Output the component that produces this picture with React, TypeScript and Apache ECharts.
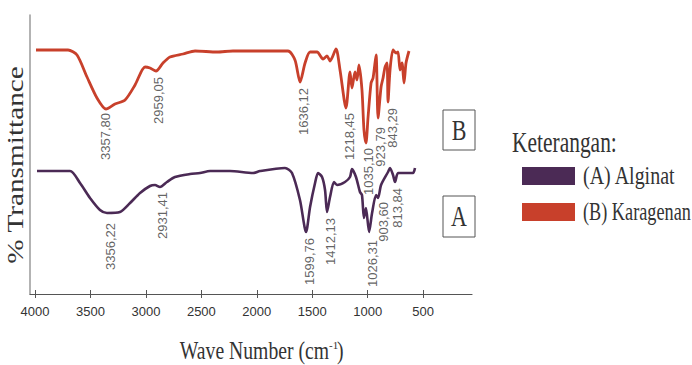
import React, { useEffect, useRef } from "react";
import * as echarts from "echarts";

// wave number ticks (cm-1)
const xTicks = [4000, 3500, 3000, 2500, 2000, 1500, 1000, 500];

// (A) Alginat spectrum: [wave number, transmittance (arb.)]
const alginat: [number, number][] = [
  [3982, 123], [3684, 123], [3594, 111], [3504, 96], [3414, 84], [3351, 81], [3234, 82],
  [3143, 91], [3053, 101], [2963, 108], [2918, 109], [2873, 107], [2810, 112], [2738, 117],
  [2602, 120], [2512, 121], [2422, 123], [2242, 123], [2034, 121], [1971, 123], [1746, 126],
  [1683, 121], [1611, 94], [1556, 62], [1520, 87], [1475, 111], [1448, 121], [1412, 117],
  [1385, 104], [1367, 82], [1340, 97], [1304, 112], [1277, 109], [1205, 112], [1160, 117],
  [1142, 125], [1106, 117], [1070, 102], [1052, 99], [1034, 76], [1016, 86], [988, 62],
  [961, 81], [925, 99], [907, 96], [880, 109], [817, 122], [799, 126], [772, 119],
  [754, 112], [727, 121], [664, 121], [592, 121], [574, 126],
];

// (B) Karagenan spectrum
const karagenan: [number, number][] = [
  [3991, 244], [3702, 244], [3621, 239], [3531, 217], [3441, 196], [3360, 185], [3279, 190],
  [3188, 194], [3098, 209], [3008, 227], [2963, 226], [2909, 223], [2846, 231], [2783, 237],
  [2665, 240], [2557, 243], [2359, 242], [2215, 243], [2106, 243], [1719, 243], [1656, 234],
  [1610, 212], [1565, 231], [1520, 242], [1457, 242], [1403, 235], [1367, 238], [1340, 233],
  [1286, 245], [1250, 224], [1196, 186], [1160, 222], [1142, 206], [1115, 222], [1097, 214],
  [1079, 229], [1052, 204], [1034, 164], [1016, 151], [997, 177], [970, 211], [952, 216],
  [925, 239], [907, 176], [880, 207], [862, 216], [844, 227], [826, 231], [817, 192],
  [799, 224], [772, 244], [745, 241], [727, 242], [709, 224], [691, 231], [673, 211],
  [655, 231], [628, 243],
];

// peak annotations: position of label top end and text
const alginatPeakWn = [3315, 2846, 1529, 1340, 961, 862, 736];
const alginatPeakY = [71, 102, 56, 76, 54, 92, 106];
const alginatPeakText = ["3356,22", "2931,41", "1599,76", "1412,13", "1026,31", "903,60", "813,84"];

const karagenanPeakWn = [3360, 2882, 1583, 1160, 997, 889, 781];
const karagenanPeakY = [181, 217, 206, 181, 146, 167, 186];
const karagenanPeakText = ["3357,80", "2959,05", "1636,12", "1218,45", "1035,10", "923,79", "843,29"];

const colorA = "#4b2a55";
const colorB = "#c8402b";
const serif = "'Liberation Serif', 'Times New Roman', serif";
const sans = "'Liberation Sans', Arial, sans-serif";

function peakSeries(wn: number[], ys: number[], texts: string[]) {
  return {
    type: "scatter",
    symbol: "circle",
    symbolSize: 1,
    itemStyle: { color: "rgba(0,0,0,0)" },
    silent: true,
    data: wn.map((w, i) => ({ name: texts[i], value: [w, ys[i]] })),
    label: {
      show: true,
      formatter: "{b}",
      position: "inside",
      rotate: 90,
      align: "right",
      verticalAlign: "middle",
      fontSize: 13,
      fontFamily: sans,
      color: "#3a3a3a",
    },
    z: 5,
  };
}

export default function App() {
  const ref = useRef<HTMLDivElement>(null);
  useEffect(() => {
    if (!ref.current) return;
    const chart = echarts.init(ref.current, undefined, { renderer: "svg" });
    chart.setOption({
      animation: false,
      backgroundColor: "#ffffff",
      grid: { left: 30, top: 15, width: 442, height: 279 },
      xAxis: [
        {
          type: "value",
          inverse: true,
          min: 60,
          max: 4045,
          splitLine: { show: false },
          axisLine: { show: true, lineStyle: { color: "#555", width: 1.2 } },
          axisTick: { show: true, customValues: xTicks, length: 4, lineStyle: { color: "#555" } },
          axisLabel: {
            show: true,
            customValues: xTicks,
            formatter: (v: number) => String(v),
            fontSize: 13,
            fontFamily: sans,
            color: "#333",
            margin: 11,
          },
        },
        {
          type: "value",
          inverse: true,
          min: 60,
          max: 4045,
          position: "bottom",
          splitLine: { show: false },
          axisLine: { show: false },
          axisTick: { show: true, inside: true, customValues: xTicks, length: 4, lineStyle: { color: "#555" } },
          axisLabel: { show: false },
        },
      ],
      yAxis: {
        type: "value",
        min: 0,
        max: 279,
        splitLine: { show: false },
        axisTick: { show: false },
        axisLabel: { show: false },
        axisLine: { show: true, lineStyle: { color: "#9a9a9a", width: 1.5 } },
      },
      series: [
        {
          name: "(A) Alginat",
          type: "line",
          data: alginat,
          showSymbol: false,
          symbol: "none",
          smooth: 0.25,
          lineStyle: { color: colorA, width: 2.6 },
          z: 3,
        },
        {
          name: "(B) Karagenan",
          type: "line",
          data: karagenan,
          showSymbol: false,
          symbol: "none",
          smooth: 0.25,
          lineStyle: { color: colorB, width: 2.8 },
          z: 3,
        },
        peakSeries(alginatPeakWn, alginatPeakY, alginatPeakText),
        peakSeries(karagenanPeakWn, karagenanPeakY, karagenanPeakText),
      ],
      graphic: [
        // y axis title
        {
          type: "text",
          x: 15,
          y: 165,
          rotation: Math.PI / 2,
          scaleX: 1.22,
          style: {
            text: "% Transmittance",
            font: `24px ${serif}`,
            fill: "#333",
            textAlign: "center",
            textVerticalAlign: "middle",
          },
        },
        // x axis title
        {
          type: "text",
          x: 329,
          y: 351,
          scaleX: 0.82,
          scaleY: 1.05,
          style: {
            text: "Wave Number (cm",
            font: `24px ${serif}`,
            fill: "#333",
            textAlign: "right",
            textVerticalAlign: "middle",
          },
        },
        {
          type: "text",
          x: 329,
          y: 345,
          style: {
            text: "-1",
            font: `11px ${serif}`,
            fill: "#333",
            textAlign: "left",
            textVerticalAlign: "middle",
          },
        },
        {
          type: "text",
          x: 337,
          y: 351,
          scaleX: 0.82,
          scaleY: 1.05,
          style: {
            text: ")",
            font: `24px ${serif}`,
            fill: "#333",
            textAlign: "left",
            textVerticalAlign: "middle",
          },
        },
        // B box
        { type: "rect", shape: { x: 443, y: 110, width: 32, height: 40 }, style: { fill: "#fff", stroke: "#555", lineWidth: 1 } },
        {
          type: "text", x: 459, y: 130, scaleY: 1.3,
          style: { text: "B", font: `22px ${serif}`, fill: "#333", textAlign: "center", textVerticalAlign: "middle" },
        },
        // A box
        { type: "rect", shape: { x: 443, y: 196, width: 32, height: 41 }, style: { fill: "#fff", stroke: "#555", lineWidth: 1 } },
        {
          type: "text", x: 459, y: 216, scaleY: 1.3,
          style: { text: "A", font: `22px ${serif}`, fill: "#333", textAlign: "center", textVerticalAlign: "middle" },
        },
        // legend
        {
          type: "text", x: 512, y: 142, scaleX: 0.74,
          style: { text: "Keterangan:", font: `29px ${serif}`, fill: "#333", textAlign: "left", textVerticalAlign: "middle" },
        },
        { type: "rect", shape: { x: 522, y: 167, width: 53, height: 18 }, style: { fill: colorA } },
        {
          type: "text", x: 583, y: 176, scaleX: 0.8,
          style: { text: "(A) Alginat", font: `25px ${serif}`, fill: "#333", textAlign: "left", textVerticalAlign: "middle" },
        },
        { type: "rect", shape: { x: 522, y: 203, width: 53, height: 18 }, style: { fill: colorB } },
        {
          type: "text", x: 583, y: 212, scaleX: 0.73,
          style: { text: "(B) Karagenan", font: `25px ${serif}`, fill: "#333", textAlign: "left", textVerticalAlign: "middle" },
        },
      ],
    });
    return () => chart.dispose();
  }, []);
  return (
    <div
      ref={ref}
      style={{ position: "fixed", left: 0, top: 0, width: 692, height: 365, background: "#fff" }}
    />
  );
}
